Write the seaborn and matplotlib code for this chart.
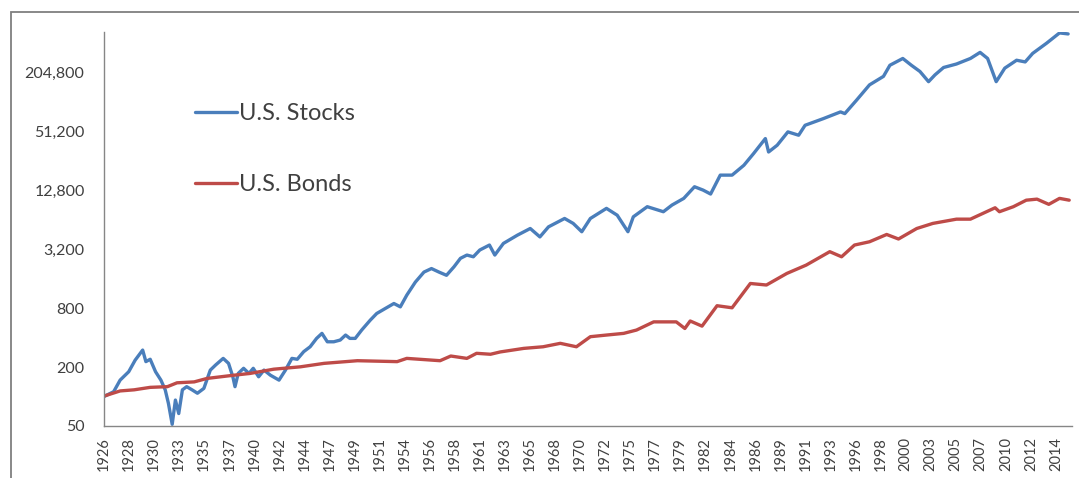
import pandas as pd
import matplotlib.pyplot as plt
import seaborn as sns
import numpy as np
from matplotlib.patches import Rectangle
from matplotlib.ticker import FixedLocator, FuncFormatter, NullLocator

# growth of $100 (decimal years)
stock_years = [1926.0, 1926.9, 1927.5, 1928.3, 1928.9, 1929.6, 1929.9, 1930.3, 1930.8, 1931.3,
               1931.7, 1932.0, 1932.35, 1932.65, 1932.96, 1933.3, 1933.7, 1934.2, 1934.7, 1935.3,
               1935.9, 1936.4, 1937.1, 1937.6, 1938.0, 1938.2, 1938.5, 1939.0, 1939.5, 1939.9,
               1940.4, 1940.9, 1941.5, 1942.3, 1942.9, 1943.5, 1944.0, 1944.6, 1945.2, 1945.8,
               1946.3, 1946.8, 1947.4, 1948.0, 1948.5, 1948.9, 1949.4, 1950.0, 1950.8, 1951.4,
               1952.2, 1953.0, 1953.6, 1954.2, 1955.0, 1955.8, 1956.5, 1957.2, 1957.9, 1958.6,
               1959.2, 1959.8, 1960.4, 1961.0, 1961.9, 1962.4, 1963.2, 1964.5, 1965.7, 1966.6,
               1967.4, 1968.9, 1969.7, 1970.5, 1971.3, 1972.8, 1973.8, 1974.8, 1975.3, 1976.6,
               1978.1, 1978.9, 1980.0, 1981.0, 1981.8, 1982.5, 1983.4, 1984.5, 1985.6, 1986.5,
               1987.6, 1987.9, 1988.7, 1989.7, 1990.7, 1991.3, 1993.0, 1994.6, 1995.0, 1996.1,
               1997.3, 1998.6, 1999.2, 2000.4, 2001.2, 2002.0, 2002.8, 2003.4, 2004.2, 2005.4,
               2006.7, 2007.6, 2008.3, 2009.1, 2009.9, 2011.0, 2011.8, 2012.5, 2013.8, 2015.0,
               2015.8]
stock_values = [100, 112, 147, 179, 235, 298, 227, 240, 179, 147,
                117, 85, 52, 92, 67, 117, 126, 117, 108, 121,
                186, 210, 245, 218, 159, 126, 172, 194, 172, 194,
                159, 186, 165, 147, 186, 245, 240, 287, 322, 392,
                441, 362, 362, 377, 424, 392, 392, 477, 602, 704,
                792, 890, 823, 1083, 1473, 1863, 2024, 1863, 1728, 2111,
                2575, 2780, 2670, 3130, 3517, 2780, 3655, 4435, 5190, 4260,
                5395, 6570, 5850, 4810, 6570, 8330, 7095, 4810, 6830, 8665,
                7700, 9000, 10535, 13850, 12800, 11670, 18200, 18200, 22950, 30200,
                43000, 31350, 36750, 50300, 46500, 58750, 68700, 80450, 77300, 106250,
                151850, 185450, 240900, 282500, 240900, 208000, 163750, 192150, 228500, 248000,
                282500, 326000, 282500, 163750, 225000, 271000, 260500, 318500, 405000, 515000,
                503000]

bond_years = [1926.0, 1927.5, 1928.8, 1930.3, 1931.9, 1932.8, 1934.4, 1935.6, 1938.1, 1939.6,
              1941.8, 1944.3, 1946.5, 1949.6, 1953.3, 1954.2, 1957.3, 1958.3, 1959.8, 1960.7,
              1962.0, 1962.9, 1965.1, 1966.9, 1968.5, 1970.0, 1971.3, 1972.8, 1974.4, 1975.6,
              1977.2, 1979.3, 1980.1, 1980.6, 1981.7, 1983.1, 1984.5, 1986.2, 1987.7, 1989.6,
              1991.4, 1993.6, 1994.7, 1995.9, 1997.3, 1998.9, 2000.0, 2001.7, 2003.2, 2005.4,
              2006.7, 2008.2, 2009.0, 2009.4, 2010.7, 2011.9, 2012.9, 2014.0, 2015.0, 2015.9]
bond_values = [101, 114, 117, 124, 126, 138, 141, 153, 165, 172,
               190, 201, 218, 232, 227, 245, 232, 259, 245, 276,
               270, 285, 310, 322, 349, 322, 408, 424, 441, 477,
               578, 578, 495, 590, 523, 845, 805, 1425, 1375, 1805,
               2195, 3010, 2670, 3517, 3800, 4510, 4055, 5190, 5850, 6465,
               6465, 7700, 8450, 7700, 8665, 10100, 10350, 9160, 10535, 10100]

y_ticks = [50, 200, 800, 3200, 12800, 51200, 204800]
x_labels = ['1926', '1928', '1930', '1933', '1935', '1937', '1940', '1942', '1944', '1947',
            '1949', '1951', '1954', '1956', '1958', '1961', '1963', '1965', '1968', '1970',
            '1972', '1975', '1977', '1979', '1982', '1984', '1986', '1989', '1991', '1993',
            '1996', '1998', '2000', '2003', '2005', '2007', '2010', '2012', '2014']

stocks = pd.DataFrame({'year': stock_years, 'value': stock_values})
bonds = pd.DataFrame({'year': bond_years, 'value': bond_values})

sns.set_style('white')
plt.rcParams['font.family'] = ['Lato', 'DejaVu Sans']

fig = plt.figure(figsize=(10.79, 4.78), dpi=100)
ax = fig.add_axes([0.0964, 0.1088, 0.897, 0.8242])

# outer frame (cut off at right and bottom)
fig.patches.append(Rectangle((0.0102, -0.2), 1.2, 1.175, transform=fig.transFigure,
                             fill=False, edgecolor='#7f7f7f', linewidth=1.3))

sns.lineplot(data=stocks, x='year', y='value', ax=ax, color='#4a7ebb', linewidth=2.4,
             label='U.S. Stocks')
sns.lineplot(data=bonds, x='year', y='value', ax=ax, color='#be4b48', linewidth=2.4,
             label='U.S. Bonds')

ax.set_yscale('log', base=2)
ax.set_ylim(50, 526000)
ax.yaxis.set_major_locator(FixedLocator(y_ticks))
ax.yaxis.set_minor_locator(NullLocator())
ax.yaxis.set_major_formatter(FuncFormatter(lambda v, p: f'{v:,.0f}'))

tick_pos = [1926 + i * 28 / 12 for i in range(len(x_labels))]
ax.set_xlim(1926, 2016.15)
ax.set_xticks(tick_pos)
ax.set_xticklabels(x_labels, rotation=90)
ax.set_xlabel('')
ax.set_ylabel('')

for s in ['top', 'right']:
    ax.spines[s].set_visible(False)
for s in ['left', 'bottom']:
    ax.spines[s].set_color('#868686')
    ax.spines[s].set_linewidth(1.0)
ax.tick_params(axis='both', which='major', direction='out', length=5, width=1,
               color='#868686', labelcolor='#404040')
ax.tick_params(axis='y', labelsize=11.5, pad=9)
ax.tick_params(axis='x', labelsize=10.5, pad=3)

ax.legend(loc='upper left', bbox_to_anchor=(0.094, 0.82), frameon=False, fontsize=17,
          handlelength=1.8, handletextpad=0.08, labelspacing=2.13, borderpad=0,
          borderaxespad=0, labelcolor='#404040')

plt.savefig('out.png', dpi=100)
